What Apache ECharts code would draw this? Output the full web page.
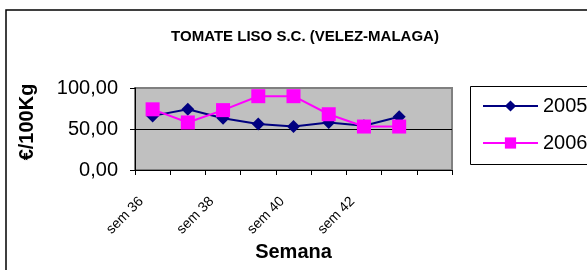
<!DOCTYPE html>
<html>
<head>
<meta charset="utf-8">
<script src="https://cdn.jsdelivr.net/npm/echarts@6/dist/echarts.min.js"></script>
<style>
  html, body { margin: 0; padding: 0; background: #fff; }
  #chart { width: 587px; height: 270px; }
</style>
</head>
<body>
<div id="chart"></div>
<script>
const semanas = ['sem 36', 'sem 37', 'sem 38', 'sem 39', 'sem 40', 'sem 41', 'sem 42', 'sem 43', '']
const precio2005 = [66, 74, 63, 56, 53, 58, 54, 65]
const precio2006 = [74, 58, 73, 90, 90, 68, 53, 53]
const yTicks = [0, 50, 100]

const font = 'Liberation Sans, Arial, sans-serif'
const myChart = echarts.init(document.getElementById('chart'))

const option = {
  animation: false,
  textStyle: { fontFamily: font },
  title: {
    text: 'TOMATE LISO S.C. (VELEZ-MALAGA)',
    left: 300,
    top: 24,
    textAlign: 'center',
    textStyle: { fontSize: 15, fontWeight: 'bold', color: '#000', fontFamily: font }
  },
  graphic: [
    {
      type: 'rect',
      shape: { x: 6, y: 10, width: 600, height: 280 },
      style: { fill: null, stroke: '#000', lineWidth: 1.5 },
      z: 100
    },
    {
      type: 'rect',
      shape: { x: 470.5, y: 86.5, width: 130, height: 78 },
      style: { fill: '#fff', stroke: '#000', lineWidth: 1 },
      z: 0
    }
  ],
  legend: {
    orient: 'vertical',
    left: 477,
    top: 91,
    itemWidth: 55,
    itemHeight: 14,
    itemGap: 17,
    textStyle: { fontSize: 20, color: '#000', fontFamily: font },
    data: ['2005', '2006']
  },
  grid: {
    left: 135,
    right: 135,
    top: 88,
    bottom: 100,
    outerBoundsMode: 'none',
    containLabel: false,
    show: true,
    backgroundColor: '#c0c0c0',
    borderColor: '#808080',
    borderWidth: 2
  },
  xAxis: {
    type: 'category',
    data: semanas,
    boundaryGap: true,
    name: 'Semana',
    nameLocation: 'middle',
    nameGap: 72,
    nameTextStyle: { fontSize: 20, fontWeight: 'bold', color: '#000', fontFamily: font },
    axisLine: { show: true, lineStyle: { color: '#000', width: 1 } },
    axisTick: { show: true, interval: 0, length: 5, inside: false, lineStyle: { color: '#000' } },
    axisLabel: {
      interval: 1,
      rotate: 45,
      fontSize: 14,
      color: '#000',
      margin: 18,
      padding: [0, 16, 0, 0],
      fontFamily: font
    },
    splitLine: { show: false }
  },
  yAxis: {
    type: 'value',
    min: yTicks[0],
    max: yTicks[yTicks.length - 1],
    interval: yTicks[1] - yTicks[0],
    name: '€/100Kg',
    nameLocation: 'middle',
    nameGap: 98,
    nameTextStyle: { fontSize: 20, fontWeight: 'bold', color: '#000', fontFamily: font, padding: [0, 0, 0, 14] },
    axisLine: { show: true, lineStyle: { color: '#000', width: 1 } },
    axisTick: { show: true, length: 5, lineStyle: { color: '#000' } },
    axisLabel: {
      fontSize: 20,
      color: '#000',
      margin: 17,
      fontFamily: font,
      formatter: v => v.toFixed(2).replace('.', ',')
    },
    splitLine: { show: true, lineStyle: { color: ['#000', '#000', '#808080'], width: 1 } }
  },
  series: [
    {
      name: '2005',
      type: 'line',
      data: precio2005,
      symbol: 'diamond',
      symbolSize: 13,
      color: '#000080',
      lineStyle: { width: 2, color: '#000080' },
      itemStyle: { color: '#000080' }
    },
    {
      name: '2006',
      type: 'line',
      data: precio2006,
      symbol: 'rect',
      symbolSize: 14,
      color: '#ff00ff',
      lineStyle: { width: 2, color: '#ff00ff' },
      itemStyle: { color: '#ff00ff' }
    }
  ]
}

option && myChart.setOption(option)
</script>
</body>
</html>
